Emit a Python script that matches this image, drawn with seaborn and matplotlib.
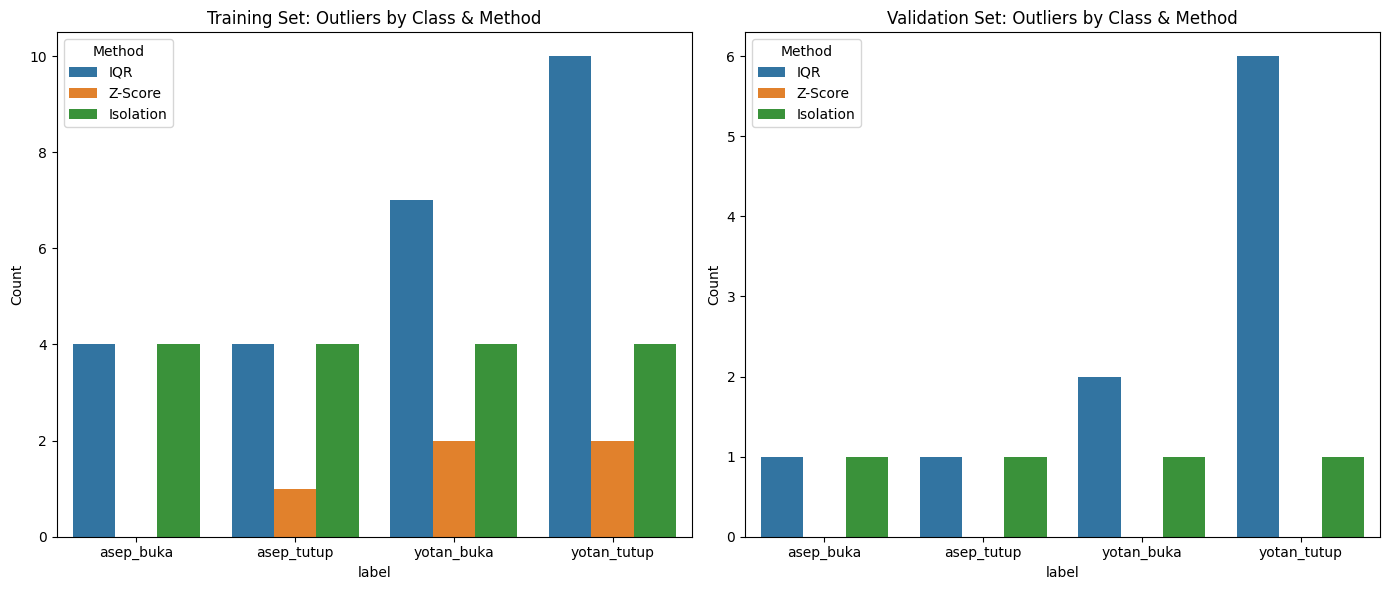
import numpy as np
import pandas as pd
import matplotlib.pyplot as plt
import seaborn as sns

labels = ["asep_buka", "asep_tutup", "yotan_buka", "yotan_tutup"]
methods = ["IQR", "Z-Score", "Isolation"]

train_iqr = [4, 4, 7, 10]
train_z = [0, 1, 2, 2]
train_iso = [4, 4, 4, 4]

val_iqr = [1, 1, 2, 6]
val_z = [0, 0, 0, 0]
val_iso = [1, 1, 1, 1]


def make_df(iqr, z, iso):
    rows = []
    for m, vals in zip(methods, [iqr, z, iso]):
        for lab, v in zip(labels, vals):
            rows.append({"label": lab, "Method": m, "Count": v})
    return pd.DataFrame(rows)


train_df = make_df(train_iqr, train_z, train_iso)
val_df = make_df(val_iqr, val_z, val_iso)

fig, axes = plt.subplots(1, 2, figsize=(14, 6), dpi=100)

sns.barplot(data=train_df, x="label", y="Count", hue="Method", ax=axes[0])
axes[0].set_title("Training Set: Outliers by Class & Method")

sns.barplot(data=val_df, x="label", y="Count", hue="Method", ax=axes[1])
axes[1].set_title("Validation Set: Outliers by Class & Method")

for ax in axes:
    ax.legend(title="Method", loc="upper left")

plt.tight_layout()
plt.savefig("out.png", bbox_inches="tight")
